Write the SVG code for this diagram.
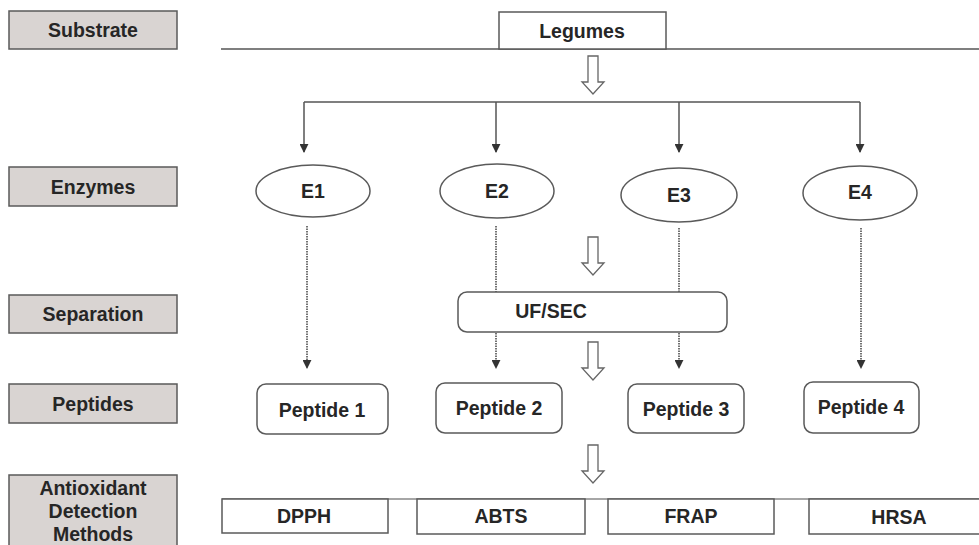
<svg xmlns="http://www.w3.org/2000/svg" width="979" height="545" viewBox="0 0 979 545">
<style>
text{font-family:"Liberation Sans",Arial,sans-serif;font-weight:bold;font-size:19.5px;fill:#262626;text-anchor:middle}
.lab{fill:#d9d4d2;stroke:#5a5a5a;stroke-width:1.5}
.box{fill:#fff;stroke:#5a5a5a;stroke-width:1.5}
.ln{fill:none;stroke:#555;stroke-width:1.5}
.dot{fill:none;stroke:#444;stroke-width:1.5;stroke-dasharray:1.5 1}
.hol{fill:#fff;stroke:#666;stroke-width:1.3}
</style>
<defs>
<marker id="ah" viewBox="0 0 10 10" refX="9" refY="5" markerWidth="9" markerHeight="9" markerUnits="userSpaceOnUse" orient="auto">
<path d="M0,0 L10,5 L0,10 Z" fill="#333"/>
</marker>
<path id="hollow" d="M-5,0 H5 V26 H11 L0,38 L-11,26 H-5 Z"/>
</defs>

<g id="label-substrate"><rect class="lab" x="9" y="11" width="168" height="38"/><text x="93" y="37">Substrate</text></g>
<g id="label-enzymes"><rect class="lab" x="9" y="167" width="168" height="39"/><text x="93" y="193.5">Enzymes</text></g>
<g id="label-separation"><rect class="lab" x="9" y="295" width="168" height="38"/><text x="93" y="321">Separation</text></g>
<g id="label-peptides"><rect class="lab" x="9" y="384" width="168" height="39"/><text x="93" y="411">Peptides</text></g>
<g id="label-methods"><rect class="lab" x="9" y="475" width="168" height="80"/><text x="93" y="495">Antioxidant</text><text x="93" y="518">Detection</text><text x="93" y="541">Methods</text></g>

<g id="connectors">
<line class="ln" x1="221" y1="49" x2="979" y2="49"/>
<use href="#hollow" class="hol" x="593" y="56"/>
<path class="ln" d="M304,102 H860"/>
<line class="ln" x1="304" y1="102" x2="304" y2="152" marker-end="url(#ah)"/>
<line class="ln" x1="496" y1="102" x2="496" y2="152" marker-end="url(#ah)"/>
<line class="ln" x1="679" y1="102" x2="679" y2="152" marker-end="url(#ah)"/>
<line class="ln" x1="860" y1="102" x2="860" y2="152" marker-end="url(#ah)"/>
<line class="dot" x1="307" y1="226" x2="307" y2="368" marker-end="url(#ah)"/>
<line class="dot" x1="496" y1="226" x2="496" y2="292"/>
<line class="dot" x1="496" y1="333" x2="496" y2="368" marker-end="url(#ah)"/>
<line class="dot" x1="679" y1="228" x2="679" y2="292"/>
<line class="dot" x1="679" y1="333" x2="679" y2="368" marker-end="url(#ah)"/>
<line class="dot" x1="861" y1="228" x2="861" y2="368" marker-end="url(#ah)"/>
<use href="#hollow" class="hol" x="593" y="237"/>
<use href="#hollow" class="hol" x="593" y="342"/>
<use href="#hollow" class="hol" x="593" y="445"/>
<line class="ln" x1="222" y1="499" x2="979" y2="499" style="stroke:#888"/>
</g>

<g id="legumes"><rect class="box" x="499" y="12" width="167" height="37"/><text x="582" y="38">Legumes</text></g>

<g id="e1"><ellipse class="box" cx="313" cy="191" rx="57" ry="26"/><text x="313" y="198">E1</text></g>
<g id="e2"><ellipse class="box" cx="497" cy="191" rx="57" ry="27"/><text x="497" y="198">E2</text></g>
<g id="e3"><ellipse class="box" cx="679" cy="195" rx="58" ry="27"/><text x="679" y="202">E3</text></g>
<g id="e4"><ellipse class="box" cx="860" cy="193" rx="57" ry="27"/><text x="860" y="199">E4</text></g>

<g id="ufsec"><rect class="box" x="458" y="292" width="269" height="40" rx="9"/><text x="551" y="318">UF/SEC</text></g>

<g id="peptide1"><rect class="box" x="257" y="384" width="131" height="50" rx="9"/><text x="322" y="417">Peptide 1</text></g>
<g id="peptide2"><rect class="box" x="436" y="383" width="126" height="50" rx="9"/><text x="499" y="415">Peptide 2</text></g>
<g id="peptide3"><rect class="box" x="628" y="384" width="116" height="49" rx="9"/><text x="686" y="416">Peptide 3</text></g>
<g id="peptide4"><rect class="box" x="804" y="382" width="115" height="51" rx="9"/><text x="861" y="414">Peptide 4</text></g>

<g id="dpph"><rect class="box" x="222" y="499" width="166" height="34"/><text x="304" y="523">DPPH</text></g>
<g id="abts"><rect class="box" x="417" y="499" width="168" height="35"/><text x="501" y="523">ABTS</text></g>
<g id="frap"><rect class="box" x="608" y="499" width="166" height="35"/><text x="691" y="523">FRAP</text></g>
<g id="hrsa"><rect class="box" x="809" y="499" width="180" height="35"/><text x="899" y="524">HRSA</text></g>
</svg>
